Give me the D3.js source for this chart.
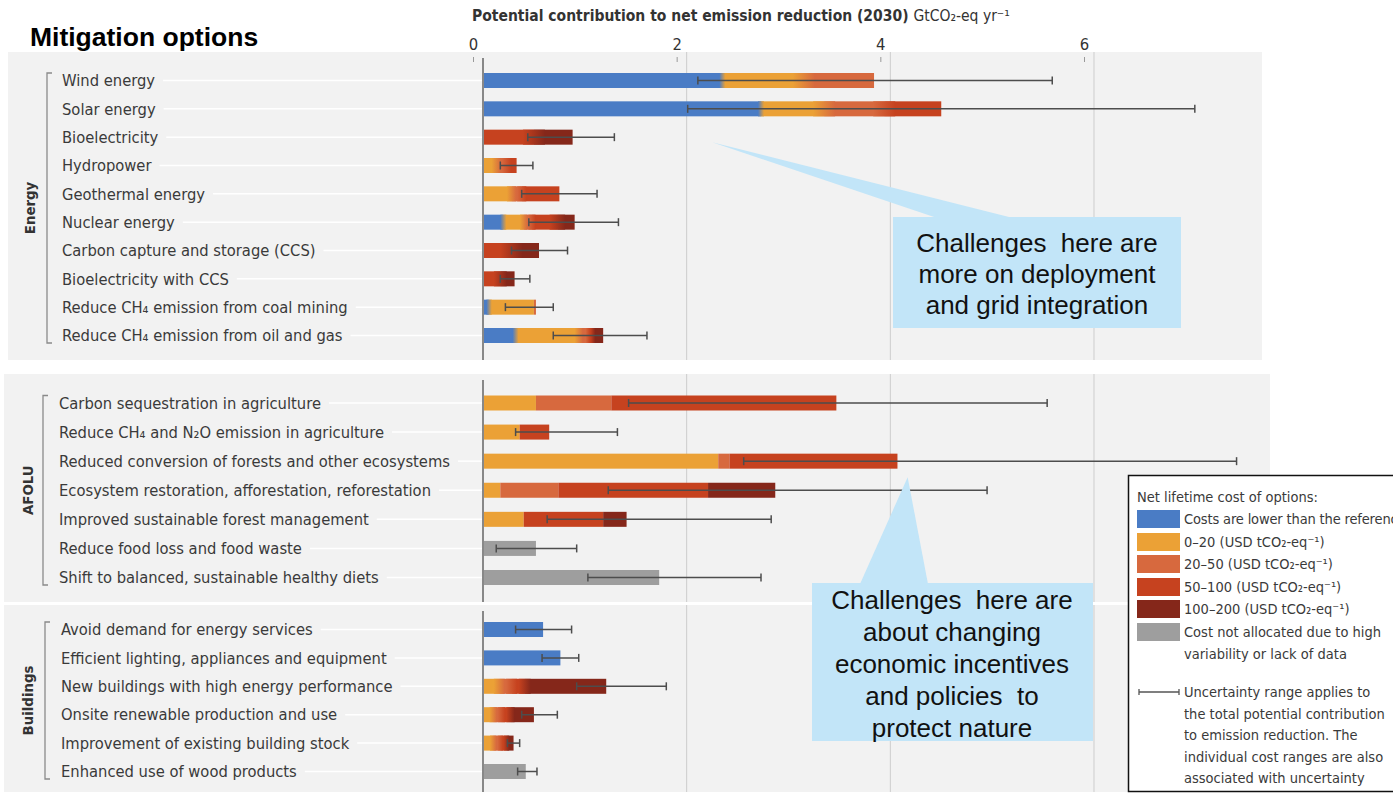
<!DOCTYPE html>
<html>
<head>
<meta charset="utf-8">
<script src="https://cdn.jsdelivr.net/npm/d3@7/dist/d3.min.js"></script>
<style>
  html, body { margin: 0; padding: 0; background: #ffffff; }
  svg { display: block; }
</style>
</head>
<body>
<svg id="chart" width="1393" height="795"></svg>
<script>
// ---- Mitigation options by sector ----
const energyOptions = [
  "Wind energy", "Solar energy", "Bioelectricity", "Hydropower", "Geothermal energy",
  "Nuclear energy", "Carbon capture and storage (CCS)", "Bioelectricity with CCS",
  "Reduce CH₄ emission from coal mining", "Reduce CH₄ emission from oil and gas"
];
const afoluOptions = [
  "Carbon sequestration in agriculture", "Reduce CH₄ and N₂O emission in agriculture",
  "Reduced conversion of forests and other ecosystems",
  "Ecosystem restoration, afforestation, reforestation",
  "Improved sustainable forest management", "Reduce food loss and food waste",
  "Shift to balanced, sustainable healthy diets"
];
const buildingsOptions = [
  "Avoid demand for energy services", "Efficient lighting, appliances and equipment",
  "New buildings with high energy performance", "Onsite renewable production and use",
  "Improvement of existing building stock", "Enhanced use of wood products"
];

// ---- Contribution per cost band (GtCO2-eq/yr), Energy | AFOLU | Buildings ----
const costLower   = [2.35, 2.73, 0, 0, 0, 0.20, 0, 0, 0.06, 0.32,   0, 0, 0, 0, 0, 0, 0,   0.59, 0.76, 0, 0, 0, 0];
const cost0to20   = [0.80, 0.62, 0, 0.13, 0.28, 0.20, 0, 0, 0.44, 0.62,   0.52, 0.36, 2.31, 0.17, 0.40, 0, 0,   0, 0, 0.16, 0.10, 0.10, 0];
const cost20to50  = [0.69, 0.59, 0, 0.10, 0.10, 0.08, 0, 0, 0.02, 0.09,   0.74, 0, 0.11, 0.57, 0, 0, 0,   0, 0, 0.12, 0.08, 0.07, 0];
const cost50to100 = [0, 0.56, 0.50, 0.10, 0.37, 0.25, 0.28, 0.17, 0, 0.05,   2.21, 0.29, 1.65, 1.47, 0.78, 0, 0,   0, 0, 0.13, 0.09, 0.06, 0];
const cost100to200= [0, 0, 0.38, 0, 0, 0.17, 0.27, 0.14, 0, 0.10,   0, 0, 0, 0.66, 0.23, 0, 0,   0, 0, 0.80, 0.23, 0.07, 0];
const costNotAllocated = [0, 0, 0, 0, 0, 0, 0, 0, 0, 0,   0, 0, 0, 0, 0, 0.52, 1.73,   0, 0, 0, 0, 0, 0.42];

// ---- Uncertainty range of the total contribution ----
const rangeLow  = [2.11, 2.01, 0.44, 0.17, 0.38, 0.45, 0.28, 0.17, 0.22, 0.69,   1.43, 0.32, 2.56, 1.23, 0.63, 0.13, 1.03,   0.32, 0.58, 0.92, 0.38, 0.24, 0.34];
const rangeHigh = [5.59, 6.99, 1.29, 0.49, 1.12, 1.33, 0.83, 0.46, 0.69, 1.61,   5.54, 1.32, 7.40, 4.95, 2.83, 0.92, 2.73,   0.87, 0.94, 1.80, 0.73, 0.36, 0.53];

// ---- Axis ticks and legend text ----
const xTicks = [0, 2, 4, 6];
const bandKeys = ["lower", "c0_20", "c20_50", "c50_100", "c100_200", "na"];
const bandColors = ["#4a7cc5", "#eba136", "#d7693e", "#c6421f", "#85271a", "#9e9e9e"];
const bandLabels = [
  ["Costs are lower than the reference"],
  ["0–20 (USD tCO₂-eq⁻¹)"],
  ["20–50 (USD tCO₂-eq⁻¹)"],
  ["50–100 (USD tCO₂-eq⁻¹)"],
  ["100–200 (USD tCO₂-eq⁻¹)"],
  ["Cost not allocated due to high", "variability or lack of data"]
];
const rangeNote = [
  "Uncertainty range applies to", "the total potential contribution",
  "to emission reduction. The", "individual cost ranges are also",
  "associated with uncertainty"
];

// ---- Build rows ----
const allOptions = energyOptions.concat(afoluOptions, buildingsOptions);
const bandArrays = [costLower, cost0to20, cost20to50, cost50to100, cost100to200, costNotAllocated];
const rows = allOptions.map((name, i) => {
  const r = { name, low: rangeLow[i], high: rangeHigh[i] };
  bandKeys.forEach((k, j) => r[k] = bandArrays[j][i]);
  return r;
});
const stacked = d3.stack().keys(bandKeys)(rows);

const NARROW = "'DejaVu Sans Condensed', 'DejaVu Sans', sans-serif";
const SANS = "'Liberation Sans', Arial, sans-serif";
const TXT = "#3a3a3a";

const svg = d3.select("#chart");
const defs = svg.append("defs");
const x = d3.scaleLinear().domain([0, 6]).range([483, 1094]);
const color = d3.scaleOrdinal().domain(bandKeys).range(bandColors);

const sections = [
  { name: "Energy", options: energyOptions, top: 52, bottom: 360, left: 8, right: 1262,
    range: [80.5, 335.5], labelX: 62, bracketX: 47, groupX: 30, soft: true },
  { name: "AFOLU", options: afoluOptions, top: 374, bottom: 602, left: 4, right: 1270,
    range: [403, 577.5], labelX: 59, bracketX: 43, groupX: 28, soft: false },
  { name: "Buildings", options: buildingsOptions, top: 605, bottom: 792, left: 4, right: 1262,
    range: [629.5, 771.5], labelX: 61, bracketX: 45, groupX: 28, soft: true }
];
sections.forEach(s => { s.y = d3.scalePoint().domain(s.options).range(s.range); });
const sectionOf = name => sections.find(s => s.options.includes(name));
const yOf = name => sectionOf(name).y(name);
const BAR_H = 15;

// ---- Title and top axis ----
svg.append("text").attr("x", 30).attr("y", 46)
  .attr("font-family", SANS).attr("font-weight", "bold").attr("font-size", 26.5)
  .attr("fill", "#000").text("Mitigation options");

const axTitle = svg.append("text").attr("x", 472).attr("y", 21)
  .attr("font-family", NARROW).attr("font-size", 15.5).attr("fill", "#333");
axTitle.append("tspan").attr("font-weight", "bold")
  .text("Potential contribution to net emission reduction (2030) ");
axTitle.append("tspan").text("GtCO₂-eq yr⁻¹");

// Panels
sections.forEach(s => {
  svg.append("rect").attr("x", s.left).attr("y", s.top)
    .attr("width", s.right - s.left).attr("height", s.bottom - s.top)
    .attr("fill", "#f2f2f2");
});

const topAxis = svg.append("g").attr("transform", "translate(-10,62)")
  .call(d3.axisTop(x).tickValues(xTicks).tickSize(5).tickPadding(7).tickFormat(d3.format("d")));
topAxis.select(".domain").remove();
topAxis.selectAll(".tick line").attr("stroke", "#999");
topAxis.selectAll(".tick text").attr("font-family", NARROW).attr("font-size", 16.5).attr("fill", "#333");

sections.forEach(s => {
  const g = svg.append("g");
  // gridlines
  g.selectAll("line.grid").data(xTicks.filter(d => d > 0)).join("line")
    .attr("x1", d => x(d)).attr("x2", d => x(d))
    .attr("y1", s.top).attr("y2", s.bottom)
    .attr("stroke", "#cdcdcd").attr("stroke-width", 1);

  // option labels
  const labels = g.selectAll("text.opt").data(s.options).join("text")
    .attr("x", s.labelX).attr("y", d => s.y(d)).attr("dy", "0.35em")
    .attr("font-family", NARROW).attr("font-size", 16.4).attr("fill", TXT)
    .text(d => d);

  // faint row guides from label end to the axis
  labels.each(function (d) {
    const w = this.getComputedTextLength();
    g.append("line").attr("x1", s.labelX + w + 8).attr("x2", x(0))
      .attr("y1", s.y(d)).attr("y2", s.y(d))
      .attr("stroke", "#ffffff").attr("stroke-width", 1.5);
  });

  // bracket and sector name
  const yTop = s.range[0] - 7.5, yBot = s.range[1] + 7.5;
  g.append("path")
    .attr("d", `M${s.bracketX + 5},${yTop}H${s.bracketX}V${yBot}H${s.bracketX + 5}`)
    .attr("fill", "none").attr("stroke", "#8a8a8a").attr("stroke-width", 1.3);
  g.append("text")
    .attr("transform", `translate(${s.groupX},${(yTop + yBot) / 2}) rotate(-90)`)
    .attr("text-anchor", "middle").attr("dy", "0.35em")
    .attr("font-family", NARROW).attr("font-weight", "bold").attr("font-size", 14.8)
    .attr("fill", "#333").text(s.name);
});

// ---- Stacked bars ----
svg.append("g").selectAll("g").data(stacked).join("g")
  .attr("fill", d => color(d.key))
  .selectAll("rect").data(d => d.filter(p => p[1] - p[0] > 0)).join("rect")
  .attr("x", d => x(d[0]))
  .attr("width", d => x(d[1]) - x(d[0]))
  .attr("y", d => yOf(d.data.name) - BAR_H / 2)
  .attr("height", BAR_H);

// Soft colour transitions between adjacent cost bands (energy and buildings);
// the step out of the "lower than reference" band stays nearly crisp.
const blendG = svg.append("g");
rows.forEach((r, i) => {
  if (!sectionOf(r.name).soft) return;
  const segs = stacked.map(layer => ({ key: layer.key, x0: layer[i][0], x1: layer[i][1] }))
    .filter(d => d.x1 - d.x0 > 0);
  for (let k = 1; k < segs.length; k++) {
    const a = segs[k - 1], b = segs[k];
    const edge = x(b.x0);
    const maxHalf = a.key === "lower" ? 3 : 11;
    const half = Math.min(maxHalf, 0.45 * (x(a.x1) - x(a.x0)), 0.45 * (x(b.x1) - x(b.x0)));
    if (half < 1) continue;
    const id = `blend-${i}-${k}`;
    const grad = defs.append("linearGradient").attr("id", id)
      .attr("x1", 0).attr("x2", 1).attr("y1", 0).attr("y2", 0);
    grad.append("stop").attr("offset", 0).attr("stop-color", color(a.key));
    grad.append("stop").attr("offset", 1).attr("stop-color", color(b.key));
    blendG.append("rect").attr("x", edge - half).attr("width", 2 * half)
      .attr("y", yOf(r.name) - BAR_H / 2).attr("height", BAR_H)
      .attr("fill", `url(#${id})`);
  }
});

// axis line at zero for each panel
sections.forEach(s => {
  svg.append("line").attr("x1", x(0)).attr("x2", x(0))
    .attr("y1", s.top + 6).attr("y2", s.bottom)
    .attr("stroke", "#888").attr("stroke-width", 2);
});

// ---- Uncertainty ranges ----
const eg = svg.append("g").attr("stroke", "#4d4d4d").attr("stroke-width", 1.5);
rows.forEach(r => {
  const yy = yOf(r.name);
  eg.append("line").attr("x1", x(r.low)).attr("x2", x(r.high)).attr("y1", yy).attr("y2", yy);
  [r.low, r.high].forEach(v => {
    eg.append("line").attr("x1", x(v)).attr("x2", x(v)).attr("y1", yy - 4).attr("y2", yy + 4);
  });
});

// ---- Callouts ----
const CALLOUT = "#c2e5f8";
function callout(tip, baseL, baseR, box, lines, cx, firstY, step) {
  svg.append("path")
    .attr("d", `M${tip[0]},${tip[1]}L${baseL},${box.y + 1}L${baseR},${box.y + 1}Z`)
    .attr("fill", CALLOUT);
  svg.append("rect").attr("x", box.x).attr("y", box.y)
    .attr("width", box.w).attr("height", box.h).attr("fill", CALLOUT);
  svg.append("g").selectAll("text").data(lines).join("text")
    .attr("x", cx).attr("y", (d, i) => firstY + i * step).attr("dy", "0.35em")
    .attr("text-anchor", "middle").attr("font-family", SANS).attr("font-size", 26)
    .attr("fill", "#111").attr("xml:space", "preserve").text(d => d);
}
callout([x(2.25), yOf("Bioelectricity") + 5], 937, 1013,
  { x: 893, y: 217, w: 288, h: 111 },
  ["Challenges  here are", "more on deployment", "and grid integration"], 1037, 243, 31);
callout([x(4.17), yOf("Reduced conversion of forests and other ecosystems") + 16], 860, 928,
  { x: 812, y: 583, w: 281, h: 158 },
  ["Challenges  here are", "about changing", "economic incentives", "and policies  to", "protect nature"], 952, 600, 32);

// ---- Legend ----
const LG_FS = 14.5;
const lg = svg.append("g");
lg.append("rect").attr("x", 1128.5).attr("y", 475.5).attr("width", 300).attr("height", 316)
  .attr("fill", "#fff").attr("stroke", "#111").attr("stroke-width", 1.5);
lg.append("text").attr("x", 1137).attr("y", 497).attr("dy", "0.35em")
  .attr("font-family", NARROW).attr("font-size", LG_FS).attr("fill", TXT)
  .text("Net lifetime cost of options:");
const legendY = [519, 542, 564, 587, 609, 632];
bandKeys.forEach((k, i) => {
  lg.append("rect").attr("x", 1137).attr("y", legendY[i] - 9).attr("width", 43).attr("height", 18)
    .attr("fill", color(k));
  bandLabels[i].forEach((t, j) => {
    lg.append("text").attr("x", 1184).attr("y", legendY[i] + j * 22).attr("dy", "0.35em")
      .attr("font-family", NARROW).attr("font-size", LG_FS).attr("fill", TXT)
      .attr("letter-spacing", i === 0 ? -0.15 : 0).text(t);
  });
});
const uy = 692;
lg.append("line").attr("x1", 1139).attr("x2", 1179).attr("y1", uy).attr("y2", uy)
  .attr("stroke", "#555").attr("stroke-width", 1.3);
[1139, 1179].forEach(v => lg.append("line").attr("x1", v).attr("x2", v)
  .attr("y1", uy - 3).attr("y2", uy + 3).attr("stroke", "#555").attr("stroke-width", 1.3));
rangeNote.forEach((t, j) => {
  lg.append("text").attr("x", 1184).attr("y", uy + j * 21.5).attr("dy", "0.35em")
    .attr("font-family", NARROW).attr("font-size", LG_FS).attr("fill", TXT).text(t);
});
</script>
</body>
</html>
